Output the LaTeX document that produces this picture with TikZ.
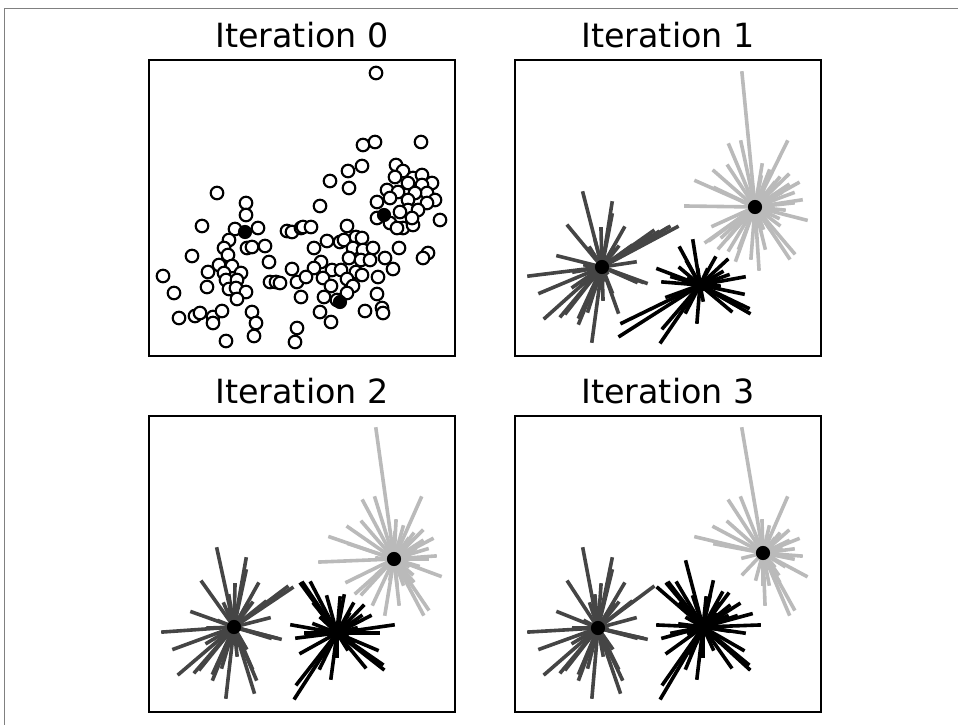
\documentclass[tikz,border=0pt]{standalone}
\usepackage{fontspec}
\setmainfont{DejaVu Sans}
\usepackage{tikz}
\RequirePackage{xcolor}

\definecolor{framegray}{gray}{0.5}
\definecolor{group1}{gray}{0.27}
\definecolor{group2}{gray}{0}
\definecolor{group3}{gray}{0.73}

\tikzset{
  title/.style={anchor=base, inner sep=0pt, font=\fontsize{25}{30}\selectfont},
  panel/.style={draw=black, line width=1.1pt},
  datapt/.style={draw=black, fill=white, line width=1.6pt},
  star/.style={line width=2.7pt, line cap=rect},
  center/.style={fill=black}
}

% data points, in the pixel frame of the first panel
\def\datapoints{217/193, 246/203, 376/73, 363/145, 375/142, 421/142, 362/166, 348/171,
  330/181, 349/188, 320/206,
  396/165, 403/171, 413/178, 422/175, 395/177, 432/183, 408/183, 422/185, 387/190,
  398/192, 427/193, 415/193, 390/198, 408/200, 435/200, 377/202, 427/203, 408/210,
  377/218, 400/212, 418/210, 390/223, 403/228, 413/225, 397/228, 440/220, 412/218,
  246/215, 202/226, 235/229, 258/228, 229/240, 224/248, 247/248, 252/247, 265/246,
  192/256, 228/255, 269/262, 219/265, 232/266, 163/276, 208/272, 224/273, 241/273,
  226/280, 237/280, 207/287, 229/289, 236/288, 246/292, 174/293, 237/299, 287/231,
  292/232, 301/228, 292/269, 270/282, 276/282, 280/283, 297/282, 301/297, 179/318,
  195/316, 200/313, 213/317, 222/311, 213/323, 252/312, 256/323, 254/336, 226/341,
  297/328, 295/342,
  303/227, 311/227, 347/226, 314/248, 327/241, 340/242, 344/240, 356/237, 362/238,
  353/248, 363/250, 373/248, 399/248, 428/253, 423/258, 349/258, 361/260, 370/260,
  385/258, 321/262, 314/268, 332/270, 341/270, 356/272, 393/269, 306/277, 323/278,
  347/279, 362/275, 378/277, 331/286, 353/286, 324/297, 347/293, 337/300, 377/294,
  320/312, 365/311, 382/308, 383/313, 331/322}

\begin{document}
\begin{tikzpicture}[x=0.75pt, y=-0.75pt]
    \useasboundingbox (0,0) rectangle (958,725);

    % outer frame, top and left only
    \draw[color=framegray, line width=0.75pt] (4,725) -- (4,8) -- (958,8);

    % titles
    \foreach \n/\x/\y in {0/302/47, 1/668/47, 2/302/403, 3/668/403}
      \node[title] (title\n) at (\x,\y) {Iteration \n};

    % iteration 0: open data points and the three starting centres
    \foreach \px/\py in \datapoints
      \draw[datapt] (\px,\py) circle[radius=4.7pt];
    \foreach \px/\py in {245/232, 340/302, 384/215}
      \fill[center] (\px,\py) circle[radius=5.3pt];

    % iterations 1 to 3: assign to the old centres, draw from the new ones
    \foreach \dx/\dy/\ax/\ay/\bx/\by/\cx/\cy/\nax/\nay/\nbx/\nby/\ncx/\ncy in {
        366/0/245/232/340/302/384/215/236/267/334/285/389/207,
        0/356/236/267/334/285/389/207/234/271/337/277/394/203,
        366/356/234/271/337/277/394/203/232/272/337/271/397/197}
    {
      \begin{scope}[shift={(\dx,\dy)}]
        \coordinate (c1) at (\nax,\nay);
        \coordinate (c2) at (\nbx,\nby);
        \coordinate (c3) at (\ncx,\ncy);
        \foreach \px/\py in \datapoints {
          \pgfmathsetmacro\da{((\px-\ax)/10)^2+((\py-\ay)/10)^2}
          \pgfmathsetmacro\db{((\px-\bx)/10)^2+((\py-\by)/10)^2}
          \pgfmathsetmacro\dc{((\px-\cx)/10)^2+((\py-\cy)/10)^2}
          \pgfmathtruncatemacro\grp{ifthenelse(\da<\db, ifthenelse(\da<\dc,1,3), ifthenelse(\db<\dc,2,3))}
          \draw[star, color=group\grp] (c\grp) -- (\px,\py);
        }
        \foreach \g in {1,2,3}
          \fill[center] (c\g) circle[radius=5.3pt];
      \end{scope}
    }

    % panel boxes
    \foreach \x/\y in {0/0, 366/0, 0/356, 366/356}
      \draw[panel] (149+\x,60+\y) rectangle (455+\x,356+\y);
\end{tikzpicture}
\end{document}
